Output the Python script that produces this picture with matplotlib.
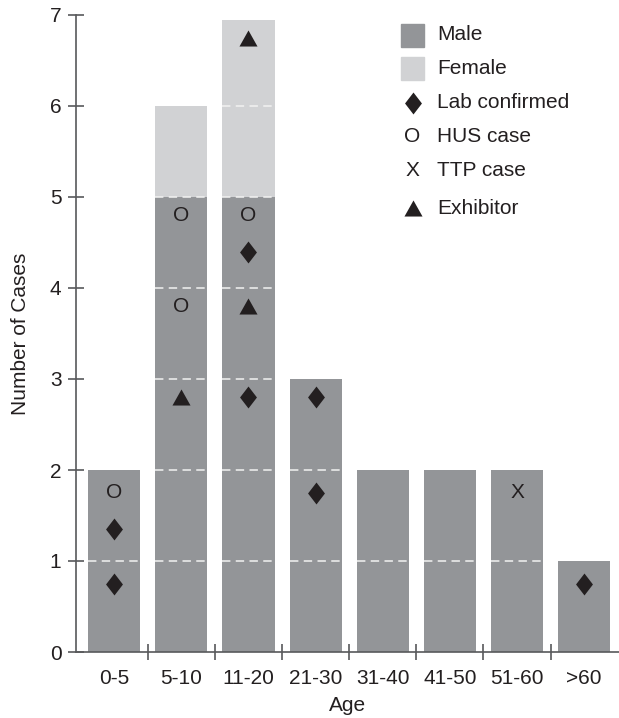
import matplotlib
matplotlib.use('Agg')
import matplotlib.pyplot as plt
import numpy as np

plt.rcParams['font.family'] = ['Liberation Sans', 'DejaVu Sans']

# data
ages = ['0-5', '5-10', '11-20', '21-30', '31-40', '41-50', '51-60', '>60']
male = [2, 5, 5, 3, 2, 2, 2, 1]
female = [0, 1, 1.95, 0, 0, 0, 0, 0]

lab_x = [0, 0, 2, 2, 3, 3, 7]
lab_y = [0.75, 1.35, 2.8, 4.4, 1.75, 2.8, 0.75]
hus_x = [0, 1, 1, 2]
hus_y = [1.75, 3.8, 4.8, 4.8]
ttp_x = [6]
ttp_y = [1.75]
exh_x = [1, 2, 2]
exh_y = [2.8, 3.8, 6.75]

c_male = '#939598'
c_female = '#d1d2d4'
c_ink = '#231f20'
c_axis = '#58595b'
fs = 15

diamond = [(0, 1), (0.77, 0), (0, -1), (-0.77, 0), (0, 1)]
triangle = [(0, 0.89), (1, -0.89), (-1, -0.89), (0, 0.89)]

W, H = 619, 718
fig = plt.figure(figsize=(W / 100, H / 100), dpi=100)
ax = fig.add_axes([76 / W, (H - 652) / H, (619 - 76) / W, (652 - 15) / H])

x = np.arange(len(ages))
bw = 0.775
ax.bar(x, male, width=bw, color=c_male, zorder=1)
ax.bar(x, female, width=bw, bottom=male, color=c_female, zorder=1)

# white dashed lines at each unit inside bars
for xi, m, f in zip(x, male, female):
    tot = m + f
    for k in range(1, int(np.ceil(tot))):
        if k < tot:
            ax.plot([xi - bw / 2, xi + bw / 2], [k, k], color='#f2f2f2', lw=1.1,
                    dashes=(5.5, 3.5), zorder=2)

ax.plot(lab_x, lab_y, ls='none', marker=diamond, ms=15.8, color=c_ink, mec='none', zorder=3)
ax.plot(exh_x, exh_y, ls='none', marker=triangle, ms=13, color=c_ink, mec='none', zorder=3)
for xi, yi in zip(hus_x, hus_y):
    ax.text(xi, yi, 'O', ha='center', va='center', fontsize=fs, color=c_ink, zorder=3)
for xi, yi in zip(ttp_x, ttp_y):
    ax.text(xi, yi, 'X', ha='center', va='center', fontsize=fs, color=c_ink, zorder=3)

ax.set_xlim(-0.57, 7.52)
ax.set_ylim(0, 7)
ax.set_xticks(x)
ax.set_xticklabels(ages)
ax.set_xticks(x[:-1] + 0.5, minor=True)
ax.set_yticks(range(8))
ax.tick_params(axis='x', which='major', length=0, pad=12, labelsize=fs, labelcolor=c_ink)
ax.tick_params(axis='x', which='minor', direction='inout', length=11, width=1.2, color=c_axis)
ax.tick_params(axis='y', direction='inout', length=11, width=1.2, color=c_axis,
               labelsize=fs, labelcolor=c_ink, pad=5)
for s in ['top', 'right']:
    ax.spines[s].set_visible(False)
for s in ['left', 'bottom']:
    ax.spines[s].set_color(c_axis)
    ax.spines[s].set_linewidth(1.2)

ax.set_xlabel('Age', fontsize=fs, color=c_ink, labelpad=6)
ax.set_ylabel('Number of Cases', fontsize=fs, color=c_ink, labelpad=14)

# legend built by hand
def fx(px):
    return px / W

def fy(py):
    return 1 - py / H

for y0, col in [(24, c_male), (57, c_female)]:
    fig.patches.append(plt.Rectangle((fx(401), fy(y0 + 23)), 23 / W, 23 / H,
                                     transform=fig.transFigure, color=col))
fig.lines.append(plt.Line2D([fx(413)], [fy(103)], ls='none', marker=diamond, ms=15.8,
                            color=c_ink, mec='none', transform=fig.transFigure))
fig.lines.append(plt.Line2D([fx(413)], [fy(208)], ls='none', marker=triangle, ms=13,
                            color=c_ink, mec='none', transform=fig.transFigure))
fig.text(fx(412), fy(137), 'O', ha='center', va='center', fontsize=fs, color=c_ink)
fig.text(fx(412), fy(171), 'X', ha='center', va='center', fontsize=fs, color=c_ink)
labels = ['Male', 'Female', 'Lab confirmed', 'HUS case', 'TTP case', 'Exhibitor']
ys = [35, 69, 103, 137, 171, 208]
for lab, yy in zip(labels, ys):
    fig.text(fx(437), fy(yy), lab, ha='left', va='center', fontsize=fs, color=c_ink)

fig.savefig('out.png', dpi=100)
